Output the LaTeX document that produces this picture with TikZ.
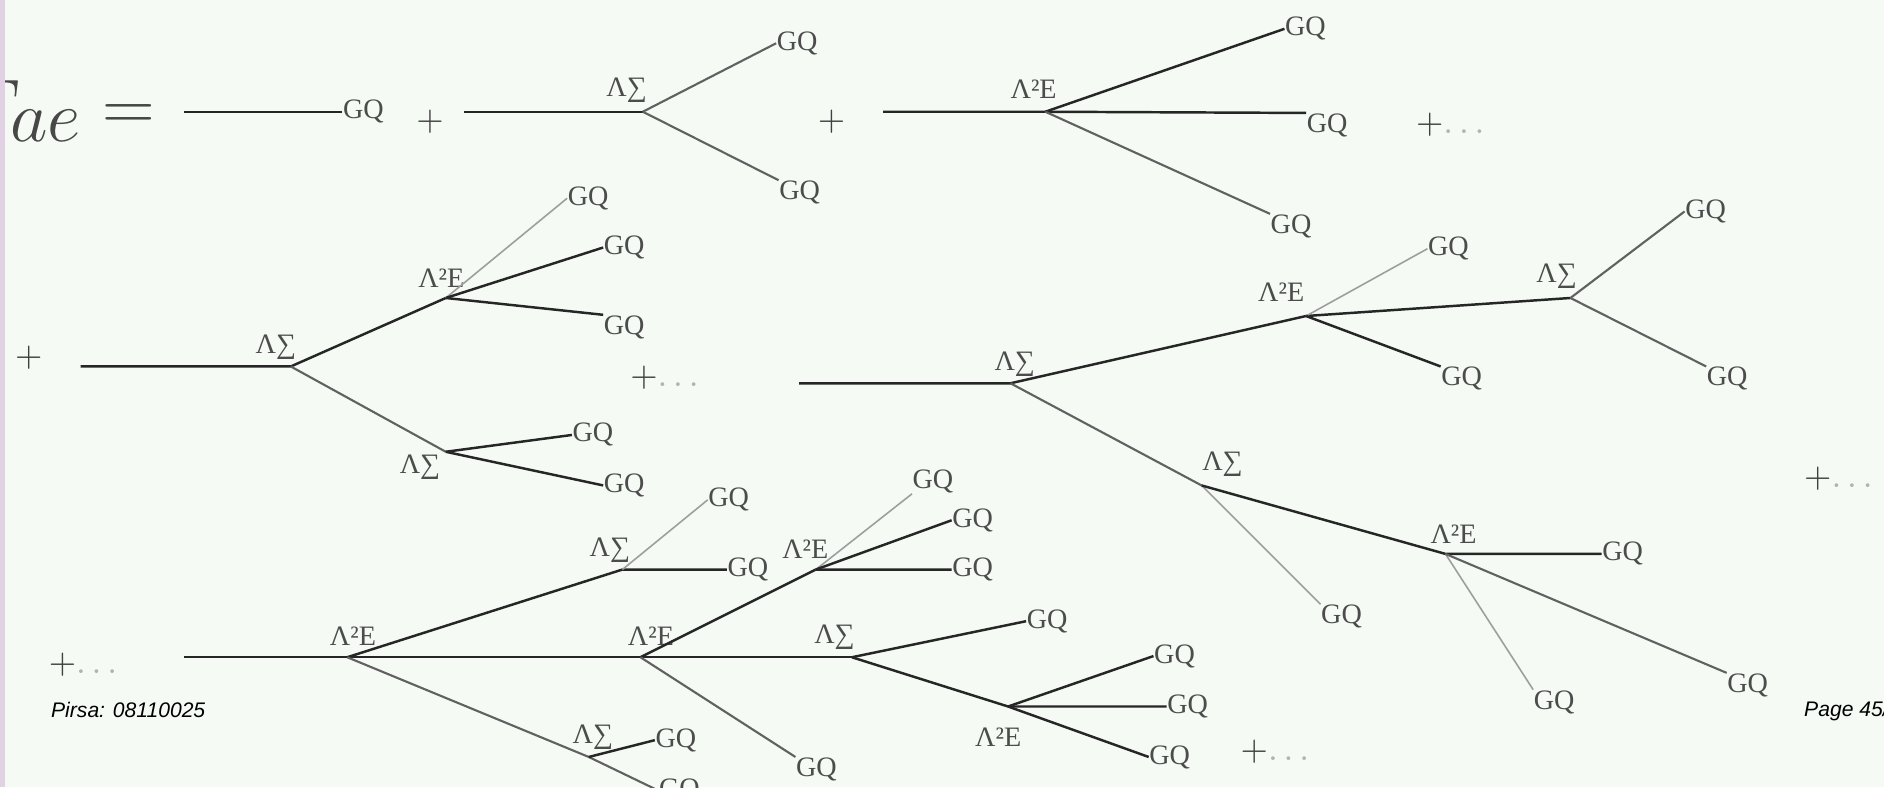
\documentclass[tikz,border=0pt]{standalone}
\usepackage{fontspec}
\usepackage{xcolor}
\newfontfamily\gqfont{Liberation Serif}
\newfontfamily\footfont{Liberation Sans}
\definecolor{slidebg}{RGB}{245,250,245}
\definecolor{slideedge}{RGB}{226,208,228}

\begin{document}
\begin{tikzpicture}[
    x=0.012015cm, y=-0.012015cm,
    wire/.style={draw=black!85, line width=0.7pt},
    medline/.style={draw=black!62, line width=0.6pt},
    faint/.style={draw=black!38, line width=0.45pt},
    gq/.style={font=\gqfont\fontsize{8}{9}\selectfont, text=black!70, inner sep=0pt},
    vlab/.style={gq},
    etc/.style={font=\fontsize{10}{12}\selectfont, text=black!75, inner sep=0pt, anchor=west},
    foot/.style={font=\footfont\itshape\fontsize{6}{7}\selectfont, inner sep=0pt, anchor=base west}
]

% Slide
\useasboundingbox (0,0) rectangle (1568,655);
\fill[slidebg] (0,0) rectangle (1568,655);
\clip (0,0) rectangle (1568,655);

% Row 1
\node[anchor=base east, inner sep=0pt, text=black!72, font=\fontsize{20}{24}\selectfont] (fae) at (130,109) {$F_{\textstyle ae}=$};
\fill[slideedge] (0,0) rectangle (4,655);

\coordinate (a0) at (153,93);
\node[gq, anchor=west] (gq1) at (285,93) {GQ};
\draw[wire] (a0) -- (gq1.west);
\node[etc] (p1) at (346,101) {$+$};

\coordinate (b0) at (386,93);
\coordinate (v1) at (535,93);
\node[vlab, anchor=south east] (t1) at (539,86) {Λ∑};
\node[gq, anchor=west] (gq2) at (646,36) {GQ};
\node[gq, anchor=north west] (gq3) at (648,150) {GQ};
\draw[wire] (b0) -- (v1);
\draw[medline] (v1) -- (gq2.west);
\draw[medline] (v1) -- (gq3.north west);
\node[etc] (p2) at (680,101) {$+$};

\coordinate (c0) at (735,93);
\coordinate (v2) at (870,93);
\node[vlab, anchor=base east] (t2) at (880,82) {Λ²E};
\node[gq, anchor=west] (gq4) at (1069,24) {GQ};
\node[gq, anchor=north west] (gq5) at (1087,94) {GQ};
\node[gq, anchor=north west] (gq6) at (1057,178) {GQ};
\draw[wire] (c0) -- (v2) -- (gq5.north west);
\draw[wire] (v2) -- (gq4.west);
\draw[medline] (v2) -- (gq6.north west);
\node[etc] (p3) at (1178,104) {$+$\textcolor{black!30}{$\ldots$}};

% Row 2, left
\node[etc] (p4) at (12,298) {$+$};
\coordinate (d0) at (67,305);
\coordinate (v3) at (242,305);
\node[vlab, anchor=south east] (t3) at (247,300) {Λ∑};
\coordinate (v4) at (371,248);
\node[vlab, anchor=base east] (t4) at (387,239) {Λ²E};
\coordinate (v5) at (371,376);
\node[vlab, anchor=north east] (t5) at (367,378) {Λ∑};
\node[gq, anchor=west] (gq7) at (472,165) {GQ};
\node[gq, anchor=west] (gq8) at (502,206) {GQ};
\node[gq, anchor=north west] (gq9) at (502,262) {GQ};
\node[gq, anchor=west] (gq10) at (476,362) {GQ};
\node[gq, anchor=west] (gq11) at (502,404) {GQ};
\draw[wire] (d0) -- (v3) -- (v4);
\draw[faint] (v4) -- (gq7.west);
\draw[wire] (v4) -- (gq8.west);
\draw[wire] (v4) -- (gq9.north west);
\draw[medline] (v3) -- (v5);
\draw[wire] (v5) -- (gq10.west);
\draw[wire] (v5) -- (gq11.west);
\node[etc] (p5) at (524,314) {$+$\textcolor{black!30}{$\ldots$}};

% Row 2, right
\coordinate (e0) at (665,319);
\coordinate (v6) at (841,319);
\node[vlab, anchor=south east] (t6) at (862,314) {Λ∑};
\coordinate (v7) at (1087,263);
\node[vlab, anchor=base east] (t7) at (1086,251) {Λ²E};
\coordinate (v8) at (1307,248);
\node[vlab, anchor=south east] (t8) at (1313,241) {Λ∑};
\coordinate (v9) at (1000,404);
\node[vlab, anchor=south west] (t9) at (1000,397) {Λ∑};
\coordinate (v10) at (1203,461);
\node[vlab, anchor=base west] (t10) at (1190,452) {Λ²E};
\node[gq, anchor=west] (gq12) at (1188,207) {GQ};
\node[gq, anchor=west] (gq13) at (1402,176) {GQ};
\node[gq, anchor=north west] (gq14) at (1420,305) {GQ};
\node[gq, anchor=north west] (gq15) at (1199,305) {GQ};
\node[gq, anchor=north west] (gq16) at (1099,503) {GQ};
\node[gq, anchor=west] (gq17) at (1333,461) {GQ};
\node[gq, anchor=north west] (gq18) at (1276,574) {GQ};
\node[gq, anchor=north west] (gq19) at (1437,560) {GQ};
\draw[wire] (e0) -- (v6) -- (v7) -- (v8);
\draw[faint] (v7) -- (gq12.west);
\draw[medline] (v8) -- (gq13.west);
\draw[medline] (v8) -- (gq14.north west);
\draw[wire] (v7) -- (gq15.north west);
\draw[medline] (v6) -- (v9);
\draw[faint] (v9) -- (gq16.north west);
\draw[wire] (v9) -- (v10) -- (gq17.west);
\draw[faint] (v10) -- (gq18.north west);
\draw[medline] (v10) -- (gq19.north west);
\node[etc] (p6) at (1501,398) {$+$\textcolor{black!30}{$\ldots$}};

% Row 3
\node[etc] (p7) at (40,553) {$+$\textcolor{black!30}{$\ldots$}};
\coordinate (f0) at (153,547);
\coordinate (v11) at (289,547);
\node[vlab, anchor=base west] (t11) at (274,537) {Λ²E};
\coordinate (v12) at (518,474);
\node[vlab, anchor=south east] (t12) at (525,469) {Λ∑};
\coordinate (v13) at (533,547);
\node[vlab, anchor=base west] (t13) at (522,537) {Λ²E};
\coordinate (v14) at (679,474);
\node[vlab, anchor=base east] (t14) at (690,465) {Λ²E};
\coordinate (v15) at (709,547);
\node[vlab, anchor=south east] (t15) at (712,541) {Λ∑};
\coordinate (v16) at (839,588);
\node[vlab, anchor=north west] (t16) at (811,605) {Λ²E};
\coordinate (v17) at (490,630);
\node[vlab, anchor=south west] (t17) at (476,624) {Λ∑};
\node[gq, anchor=west] (gq20) at (589,416) {GQ};
\node[gq, anchor=west] (gq21) at (605,474) {GQ};
\node[gq, anchor=south west] (gq22) at (759,411) {GQ};
\node[gq, anchor=west] (gq23) at (792,433) {GQ};
\node[gq, anchor=west] (gq24) at (792,474) {GQ};
\node[gq, anchor=west] (gq25) at (854,517) {GQ};
\node[gq, anchor=west] (gq26) at (960,546) {GQ};
\node[gq, anchor=west] (gq27) at (971,588) {GQ};
\node[gq, anchor=west] (gq28) at (956,630) {GQ};
\node[gq, anchor=north west] (gq29) at (662,630) {GQ};
\node[gq, anchor=west] (gq30) at (545,616) {GQ};
\node[gq, anchor=west] (gq31) at (548,658) {GQ};
\draw[wire] (f0) -- (v11) -- (v13) -- (v15);
\draw[wire] (v11) -- (v12) -- (gq21.west);
\draw[faint] (v12) -- (gq20.west);
\draw[wire] (v13) -- (v14) -- (gq24.west);
\draw[faint] (v14) -- (gq22.south west);
\draw[wire] (v14) -- (gq23.west);
\draw[wire] (v15) -- (gq25.west);
\draw[wire] (v15) -- (v16) -- (gq27.west);
\draw[wire] (v16) -- (gq26.west);
\draw[wire] (v16) -- (gq28.west);
\draw[medline] (v13) -- (gq29.north west);
\draw[medline] (v11) -- (v17) -- (gq31.west);
\draw[wire] (v17) -- (gq30.west);
\node[etc] (p8) at (1032,626) {$+$\textcolor{black!30}{$\ldots$}};

% Footer
\node[foot] (pirsa) at (42,597) {Pirsa: 08110025};
\node[foot] (page) at (1501,596) {Page 45/};

\end{tikzpicture}
\end{document}
